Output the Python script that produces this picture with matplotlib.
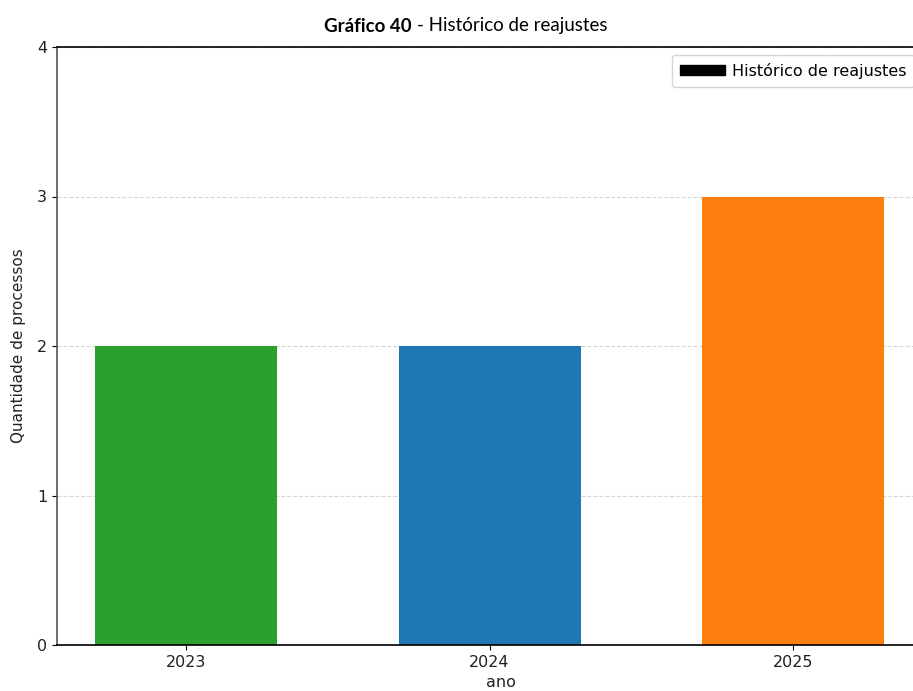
import matplotlib
matplotlib.use("Agg")
import matplotlib.pyplot as plt
from matplotlib.patches import Patch

# data
anos = ["2023", "2024", "2025"]
quantidades = [2, 2, 3]
cores = ["#2ca02c", "#1f77b4", "#ff7f0e"]

W, H = 913, 691
fig = plt.figure(figsize=(W / 100, H / 100), dpi=100)

# axes run past the right edge of the figure (cropped like the original)
left, bottom, top, right = 57, 645, 47, 945
ax = fig.add_axes([left / W, (H - bottom) / H, (right - left) / W, (bottom - top) / H])

ax.bar(range(len(anos)), quantidades, width=0.6, color=cores, zorder=2)
ax.set_xticks(range(len(anos)))
ax.set_xticklabels(anos, fontsize=11.5, color="#222222")
ax.set_xlim(-0.425, 2.5)
ax.set_ylim(0, 4)
ax.set_yticks([0, 1, 2, 3, 4])
ax.tick_params(axis="y", labelsize=11.5, labelcolor="#222222")
ax.grid(axis="y", linestyle="--", color="#cccccc", alpha=0.8, zorder=0)
ax.set_xlabel("ano", fontsize=11.5, labelpad=4, color="#222222")
ax.set_ylabel("Quantidade de processos", fontsize=11, labelpad=8, color="#222222")
for s in ax.spines.values():
    s.set_linewidth(1.2)
ax.spines["left"].set_color("#555555")

leg_x = (672 - left) / (right - left)
leg_y = (bottom - 55) / (bottom - top)
ax.legend(handles=[Patch(color="black", label="Histórico de reajustes")],
          loc="upper left", bbox_to_anchor=(leg_x, leg_y), borderaxespad=0,
          fontsize=11.5, handlelength=2.8, handleheight=0.6, handletextpad=0.45,
          borderpad=0.5)

# title in two pieces (bold number + regular text)
ty = 1 - 26 / H
fig.text(412 / W, ty, "Gráfico 40", fontsize=13.5, fontweight="bold",
         family=["Lato", "DejaVu Sans"], ha="right", va="center")
fig.text(417 / W, ty, "- Histórico de reajustes", fontsize=13.5,
         family=["Lato", "DejaVu Sans"], ha="left", va="center")

fig.savefig("out.png", dpi=100)
